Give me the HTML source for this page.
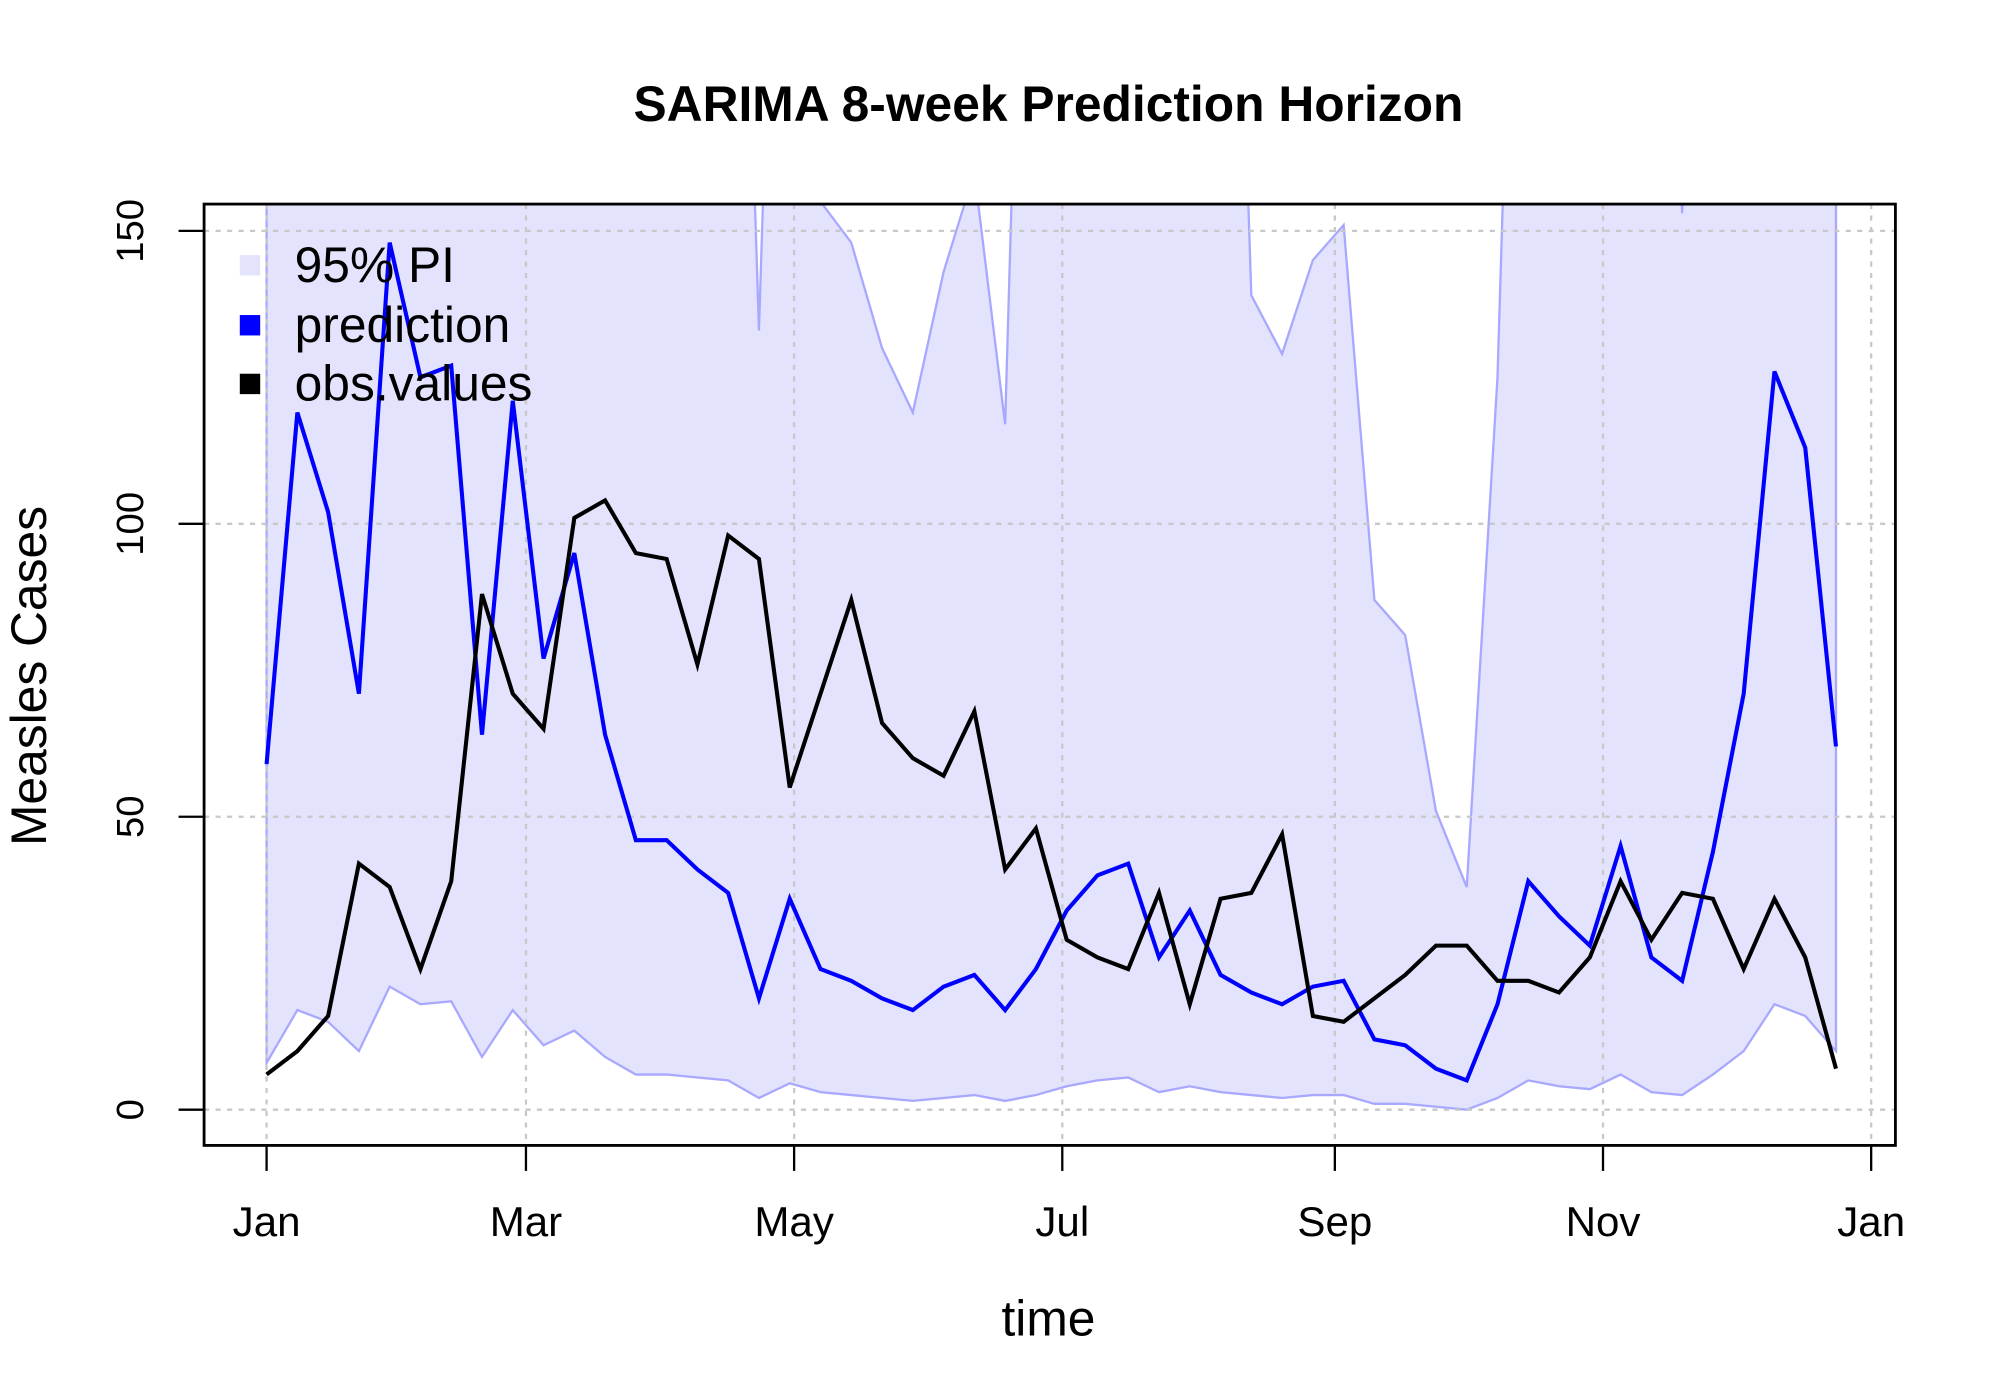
<!DOCTYPE html>
<html><head><meta charset="utf-8"><style>
html,body{margin:0;padding:0;background:#fff;}
svg{display:block;font-family:"Liberation Sans",Arial,sans-serif;}
</style></head><body>
<svg id="chart" width="2000" height="1400" viewBox="0 0 1568 1097.6" preserveAspectRatio="none" xmlns="http://www.w3.org/2000/svg">
<defs><clipPath id="clip"><rect x="160" y="160" width="1326" height="738"/></clipPath></defs>
<g id="plot"></g>
</svg>
<script>
const obsValues=[6,10,16,42,38,24,39,88,71,65,101,104,95,94,76,98,94,55,71,87,66,60,57,68,41,48,29,26,24,37,18,36,37,47,16,15,19,23,28,28,22,22,20,26,39,29,37,36,24,36,26,7];
const predValues=[59,119,102,71,148,125,127,64,121,77,95,64,46,46,41,37,19,36,24,22,19,17,21,23,17,24,34,40,42,26,34,23,20,18,21,22,12,11,7,5,18,39,33,28,45,26,22,44,71,126,113,62];
const lowerValues=[8,17,15,10,21,18,18.5,9,17,11,13.5,9,6,6,5.5,5,2,4.5,3,2.5,2,1.5,2,2.5,1.5,2.5,4,5,5.5,3,4,3,2.5,2,2.5,2.5,1,1,0.5,0,2,5,4,3.5,6,3,2.5,6,10,18,16,10];
const upperValues=[300,300,300,300,300,300,300,300,300,300,300,300,300,300,300,300,133,300,155,148,130,119,143,160,117,300,300,300,300,300,300,300,139,129,145,151,87,81,51,38,125,300,300,300,300,300,153,300,300,300,300,300];
const yTicks=[0,50,100,150];
const monthLabels=["Jan","Mar","May","Jul","Sep","Nov","Jan"];
const monthDays=[0,59,120,181,243,304,365];

const NS="http://www.w3.org/2000/svg";
const g=document.getElementById('plot');
const X0=209, PXDAY=1258/365;
const xWeek=i=>X0+i*7*PXDAY;
const xDay=d=>X0+d*PXDAY;
const yv=v=>870-v*(689/150);
function el(t,a,p){const e=document.createElementNS(NS,t);for(const k in a)e.setAttribute(k,a[k]);(p||g).appendChild(e);return e;}
function txt(s,a){const e=el('text',a);e.textContent=s;return e;}

let pts=upperValues.map((v,i)=>xWeek(i)+','+yv(v));
for(let i=lowerValues.length-1;i>=0;i--)pts.push(xWeek(i)+','+yv(lowerValues[i]));
const band=el('polygon',{points:pts.join(' '),fill:'#e3e3fd',stroke:'#a8a8ff','stroke-width':1.8,'clip-path':'url(#clip)'});



yTicks.forEach(t=>{const l=el('line',{x1:160,x2:1486,y1:yv(t),y2:yv(t),stroke:'#c8c8c8','stroke-width':1.8,'stroke-dasharray':'4,5'});

});
monthDays.forEach(d=>{const l=el('line',{x1:xDay(d),x2:xDay(d),y1:160,y2:898,stroke:'#c8c8c8','stroke-width':1.8,'stroke-dasharray':'4,5'});

});

function series(vals,color,name){const p=el('polyline',{points:vals.map((v,i)=>xWeek(i)+','+yv(v)).join(' '),fill:'none',stroke:color,'stroke-width':3.2,'stroke-linejoin':'miter','clip-path':'url(#clip)'});

}
series(predValues,'#0000ff','prediction-line');
series(obsValues,'#000000','observed-line');

const box=el('rect',{x:160,y:160,width:1326,height:738,fill:'none',stroke:'#000','stroke-width':2.2});



yTicks.forEach(t=>{el('line',{x1:140,x2:160,y1:yv(t),y2:yv(t),stroke:'#000','stroke-width':1.8});
const l=txt(String(t),{x:112,y:yv(t),'font-size':30,'text-anchor':'middle',transform:`rotate(-90 112 ${yv(t)})`});

});
monthDays.forEach((d,i)=>{el('line',{x1:xDay(d),x2:xDay(d),y1:898,y2:918,stroke:'#000','stroke-width':1.8});
const l=txt(monthLabels[i],{x:xDay(d),y:969,'font-size':33,'text-anchor':'middle'});

});

const title=txt('SARIMA 8-week Prediction Horizon',{x:822,y:95,'font-size':39,'font-weight':'bold','text-anchor':'middle'});


const xt=txt('time',{x:822,y:1047,'font-size':39,'text-anchor':'middle'});


const yt=txt('Measles Cases',{x:36,y:530,'font-size':39,'text-anchor':'middle',transform:'rotate(-90 36 530)'});



[['95% PI','#e3e3fd',208],['prediction','#0000ff',255],['obs.values','#000000',301]].forEach(([s,c,y])=>{
const sq=el('rect',{x:188,y:y-8,width:16,height:16,fill:c});


const t=txt(s,{x:231,y:y+13,'font-size':39});

});
</script>
</body></html>
